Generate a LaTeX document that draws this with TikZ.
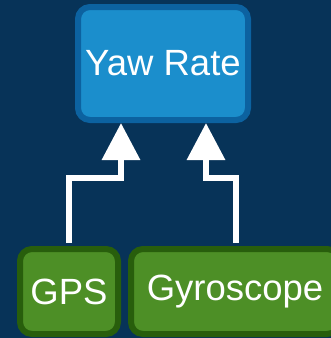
\documentclass[tikz,border=0pt]{standalone}
\usepackage{fontspec}
\setmainfont{Liberation Sans}
\usetikzlibrary{arrows.meta}
\definecolor{bgnavy}{RGB}{7,51,88}
\definecolor{blfill}{RGB}{27,142,204}
\definecolor{bledge}{RGB}{12,98,160}
\definecolor{grfill}{RGB}{77,143,38}
\definecolor{gredge}{RGB}{40,94,12}
\tikzset{
  blockbase/.style={rounded corners=12pt, line width=6pt, text=white,
    font=\fontsize{36.5}{40}\selectfont, inner sep=0pt},
  bluebox/.style={blockbase, draw=bledge, fill=blfill},
  greenbox/.style={blockbase, draw=gredge, fill=grfill},
  feed/.style={draw=white, line width=6.5pt,
    -{Triangle[length=37pt,width=37pt]}}
}
\begin{document}
\begin{tikzpicture}[x=1pt,y=-1pt]
  \fill[bgnavy] (0,0) rectangle (331,338);
  \useasboundingbox (0,0) rectangle (331,338);
  \clip (0,0) rectangle (331,338);

  \node[bluebox, minimum width=170pt, minimum height=113pt] (yaw) at (163,63.5) {Yaw Rate};
  \node[greenbox, minimum width=98pt, minimum height=85pt] (gps) at (69,291.5) {GPS};
  \node[greenbox, minimum width=208pt, minimum height=85pt] (gyro) at (235,291.5) {Gyroscope};

  \draw[feed] ([yshift=3pt]gps.north) |- (121,178) -- ([xshift=-42pt]yaw.south);
  \draw[feed] ([yshift=3pt]gyro.north -| 236,0) |- (206,178) -- ([xshift=43pt]yaw.south);
\end{tikzpicture}
\end{document}
